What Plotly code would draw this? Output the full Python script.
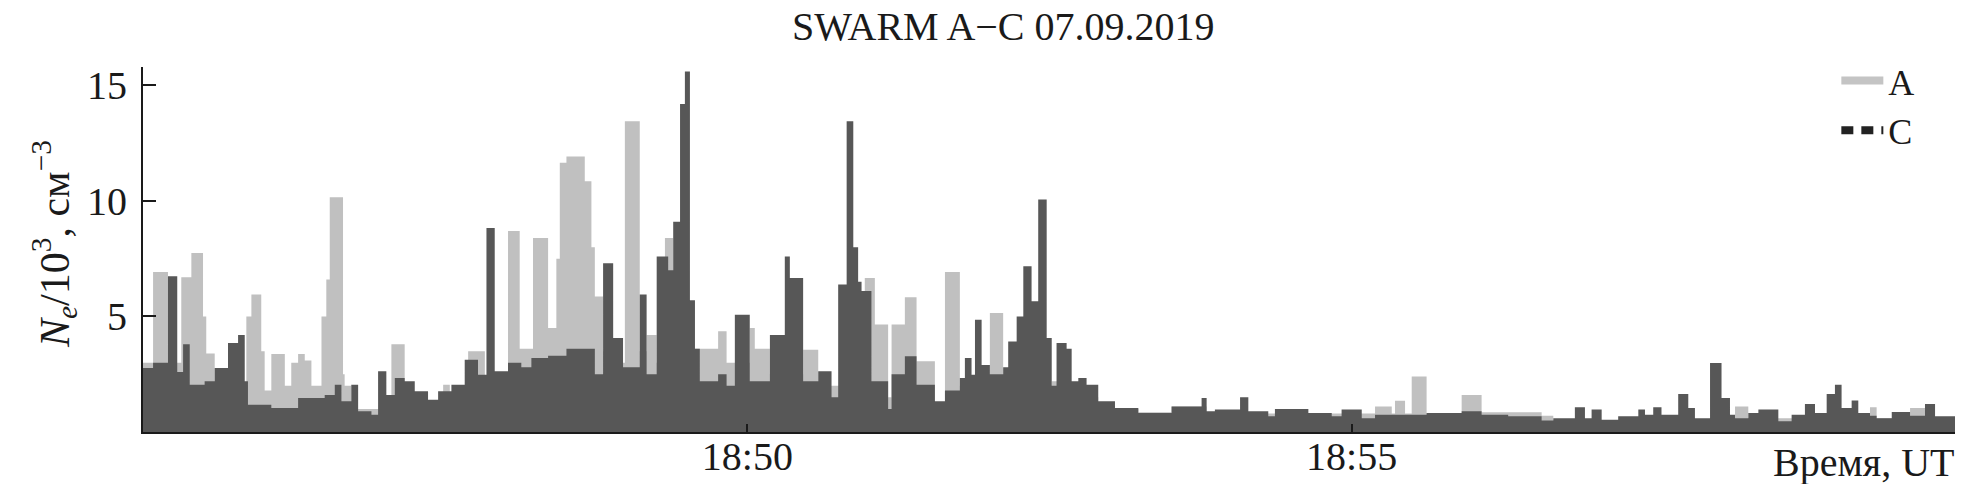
import plotly.graph_objects as go
import pandas as pd

# seconds after 18:45:00 UT, values in 10^3 cm^-3
a_t = [0, 5.0, 12.4, 19.0, 24.0, 29.8, 31.4, 35.6, 51.3, 53.8, 58.7, 60.4, 63.7, 70.4, 73.6, 77.0, 80.3, 83.6,
       88.6, 91.0, 92.7, 99.3, 100.1, 103.4, 123.3, 129.9, 149.0, 152.3, 161.4, 169.7, 181.2, 187.0, 193.6,
       201.1, 205.2, 206.9, 210.2, 219.3, 222.6, 224.3, 228.4, 233.4, 239.2, 246.6, 250.0, 255.0, 259.1,
       263.2, 274.0, 285.5, 289.7, 301.2, 303.7, 311.2, 327.7, 335.2, 358.3, 363.3, 369.9, 371.6, 378.2,
       384.0, 393.1, 398.1, 405.5, 420.4, 427.0, 451.1, 455.0, 474.2, 494.1, 510.6, 528.0, 611.6, 619.9,
       621.5, 626.5, 629.8, 637.2, 654.6, 664.5, 694.3, 700.1, 790.3, 796.9, 857.3, 860.6, 877.2, 884.6, 900]
a_v = [3.0, 6.93, 3.0, 6.7, 7.75, 5.0, 3.4, 2.0, 5.0, 5.95, 3.5, 1.8, 3.38, 2.0, 3.0, 3.38, 3.1, 2.0,
       5.0, 6.6, 10.16, 2.5, 2.0, 1.0, 3.8, 1.0, 2.05, 1.0, 3.5, 1.5, 8.7, 3.6, 8.4,
       4.5, 7.5, 11.65, 11.93, 10.85, 8.0, 5.87, 3.5, 3.0, 13.45, 3.5, 4.2, 3.0, 8.4,
       2.0, 3.6, 4.36, 3.0, 4.5, 3.6, 2.5, 3.56, 2.0, 6.67, 4.65, 1.5, 4.65, 5.83,
       3.06, 1.2, 6.93, 2.0, 5.15, 2.0, 2.2, 1.5, 1.0, 0.85, 1.1, 0.8, 1.1, 0.8,
       1.35, 0.8, 2.4, 0.8, 1.6, 0.85, 0.7, 0.5, 1.1, 0.6, 1.07, 0.6, 1.04, 0.6, 0.6]

c_t = [0, 5.0, 12.4, 17.0, 19.9, 23.2, 30.6, 35.6, 42.2, 47.2, 50.5, 52.1, 63.7, 77.0, 90.2, 95.2, 98.5,
       103.4, 106.8, 113.4, 116.7, 120.8, 125.0, 129.9, 134.9, 141.5, 146.5, 153.1, 159.7, 166.3, 170.5,
       174.6, 181.2, 187.8, 192.8, 201.1, 210.2, 224.3, 228.4, 233.4, 238.3, 246.6, 250.0, 255.0, 260.7,
       263.2, 266.6, 269.0, 271.5, 274.0, 276.4, 285.5, 289.7, 293.8, 301.2, 311.2, 318.6, 321.1, 327.7,
       335.2, 341.8, 345.1, 349.3, 352.6, 355.0, 356.7, 361.6, 369.9, 371.6, 378.2, 384.0, 393.1, 398.1,
       405.5, 408.0, 411.3, 413.0, 416.3, 420.4, 427.0, 429.5, 433.7, 437.0, 441.1, 444.4, 448.6, 451.1,
       453.5, 458.5, 461.0, 464.3, 468.4, 474.2, 482.5, 494.1, 510.6, 525.5, 528.0, 532.1, 544.6, 548.7,
       558.6, 561.9, 578.5, 590.1, 595.0, 605.0, 611.6, 637.2, 654.6, 664.5, 677.7, 694.3, 700.1, 710.8,
       715.8, 719.1, 724.1, 732.3, 742.3, 745.6, 749.7, 753.8, 762.1, 767.1, 770.4, 777.9, 783.6, 787.8,
       790.3, 796.9, 801.9, 811.8, 818.4, 825.0, 830.0, 835.8, 839.9, 843.2, 848.2, 851.5, 857.3, 860.6,
       868.1, 877.2, 884.6, 889.6, 900]
c_v = [2.77, 3.0, 6.74, 2.6, 3.8, 2.05, 2.2, 2.77, 3.85, 4.2, 2.2, 1.18, 1.04, 1.47, 1.6, 2.05, 1.33,
       2.05, 0.9, 0.75, 2.63, 1.6, 2.34, 2.2, 1.76, 1.4, 1.76, 2.05, 3.13, 2.48, 8.83,
       2.63, 3.0, 2.8, 3.2, 3.3, 3.6, 2.5, 7.3, 4.07, 2.8, 5.95, 2.5, 7.6, 7.0,
       9.1, 14.2, 15.6, 5.7, 3.6, 2.2, 2.5, 2.0, 5.08, 2.2, 4.2, 7.6, 6.67, 2.2,
       2.63, 1.5, 6.38, 13.45, 8.0, 6.5, 6.1, 2.2, 1.0, 2.5, 3.28, 2.05, 1.33, 1.8,
       2.34, 3.2, 2.48, 4.86, 2.9, 2.5, 2.8, 3.92, 5.0, 7.17, 5.66, 10.06, 4.07, 2.0,
       3.85, 3.6, 2.2, 2.34, 2.05, 1.33, 1.04, 0.82, 1.1, 1.47, 0.9, 0.97, 1.5, 0.9,
       0.68, 1.0, 0.82, 0.68, 0.97, 0.6, 0.75, 0.82, 0.9, 0.75, 0.68, 0.5, 0.6, 1.07,
       0.6, 0.97, 0.53, 0.68, 0.97, 0.75, 1.07, 0.75, 1.65, 1.04, 0.6, 2.99, 1.47, 0.75,
       0.6, 0.82, 0.97, 0.46, 0.75, 1.21, 0.82, 1.65, 2.05, 1.04, 1.36, 0.82, 0.7, 0.6,
       0.87, 0.7, 1.21, 0.68, 0.68]

x_tick_times = ["2019-09-07 18:50:00", "2019-09-07 18:55:00"]
x_tick_labels = ["18:50", "18:55"]
y_ticks = [5, 10, 15]

base = pd.Timestamp("2019-09-07 18:45:00")
a_x = base + pd.to_timedelta(a_t, unit="s")
c_x = base + pd.to_timedelta(c_t, unit="s")

FONT = "Liberation Serif, Times New Roman, DejaVu Serif, serif"
TXT = "#1a1a1a"
COL_A = "#c0c0c0"
COL_C = "#575757"

fig = go.Figure()
fig.add_trace(go.Scatter(x=a_x, y=a_v, mode="lines", line=dict(width=0, shape="hv", color=COL_A),
                         fill="tozeroy", fillcolor=COL_A, showlegend=False, hoverinfo="skip"))
fig.add_trace(go.Scatter(x=c_x, y=c_v, mode="lines", line=dict(width=0, shape="hv", color=COL_C),
                         fill="tozeroy", fillcolor=COL_C, showlegend=False, hoverinfo="skip"))
# legend entries
fig.add_trace(go.Scatter(x=[None], y=[None], mode="lines", name="A",
                         line=dict(color="#c4c4c4", width=8)))
fig.add_trace(go.Scatter(x=[None], y=[None], mode="lines", name="C",
                         line=dict(color="#222222", width=8, dash="12px,8px")))

fig.update_layout(
    width=1963, height=484,
    margin=dict(l=135, r=15, t=59, b=60, autoexpand=False),
    paper_bgcolor="white", plot_bgcolor="white",
    font=dict(family=FONT, size=40, color=TXT),
    title=dict(text="SWARM A\u2212C 07.09.2019", x=0.507, xanchor="center",
               y=1 - 4 / 484, yref="container", yanchor="top", pad=dict(t=0, b=0),
               font=dict(family=FONT, size=40, color=TXT)),
    legend=dict(x=0.934, y=1.045, xanchor="left", yanchor="top", bgcolor="rgba(0,0,0,0)",
                font=dict(family=FONT, size=36, color=TXT), tracegroupgap=0, itemwidth=42),
    showlegend=True,
)
fig.update_xaxes(
    type="date", automargin=False,
    range=["2019-09-07 18:45:00", "2019-09-07 19:00:00"],
    tickvals=x_tick_times, ticktext=x_tick_labels,
    ticks="inside", ticklen=8, tickwidth=2, tickcolor=TXT,
    showline=True, linecolor=TXT, linewidth=2,
    showgrid=False, zeroline=False,
    tickfont=dict(family=FONT, size=40, color=TXT),
    ticklabelstandoff=-12,
)
fig.update_yaxes(
    range=[0, 15.8], automargin=False,
    tickvals=y_ticks, ticktext=[str(v) for v in y_ticks],
    ticks="inside", ticklen=13, tickwidth=2, tickcolor=TXT,
    showline=True, linecolor=TXT, linewidth=2,
    showgrid=False, zeroline=False,
    tickfont=dict(family=FONT, size=40, color=TXT),
    ticklabelstandoff=6,
)
fig.add_annotation(text="Время, UT", xref="paper", yref="paper", x=1.0, y=-0.016,
                   xanchor="right", yanchor="top", showarrow=False,
                   font=dict(family=FONT, size=40, color=TXT))
fig.add_annotation(text="<i>N<sub>e</sub></i>/10<sup>3</sup>, см<sup>\u22123</sup>",
                   xref="paper", yref="paper", x=-(135 - 46) / 1813, y=0.515,
                   xanchor="center", yanchor="middle", textangle=-90, showarrow=False,
                   font=dict(family=FONT, size=42, color=TXT))

fig.write_html("out.html")
